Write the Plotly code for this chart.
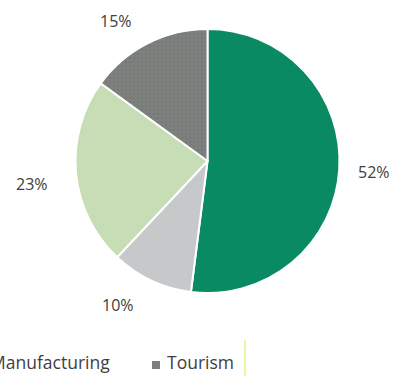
import math
import plotly.graph_objects as go

# Sector shares (percent), clockwise from 12 o'clock
sectors = ["Services", "Agriculture", "Manufacturing", "Tourism"]
shares = [52, 10, 23, 15]
colors = ["#0a8a63", "#c6c8ca", "#c7ddb6", "#7d817e"]

# Legend entries visible along the bottom strip
legend_items = ["Manufacturing", "Tourism"]

W, H = 396, 376
cx, cy, r = 207.5, 161.0, 132.0  # pie centre and radius in pixels

# Small pixel nudges for the outside labels (best-fit placement)
label_nudge = [(-1, 0), (-18, -8), (-9, 7), (-15, 9)]

dom_x = [(cx - r) / W, (cx + r) / W]
dom_y = [1 - (cy + r) / H, 1 - (cy - r) / H]

fig = go.Figure(
    go.Pie(
        labels=sectors,
        values=shares,
        sort=False,
        direction="clockwise",
        rotation=0,
        marker=dict(
            colors=colors,
            line=dict(color="white", width=2),
            pattern=dict(
                shape=["", "", "", "."],
                fillmode="overlay",
                fgcolor="#666a68",
                size=4,
                solidity=0.2,
            ),
        ),
        textinfo="none",
        hoverinfo="label+percent",
        showlegend=False,
        domain=dict(x=dom_x, y=dom_y),
    )
)

label_font = dict(family="Open Sans, Noto Sans, sans-serif", size=16, color="#404040")
legend_font = dict(family="Open Sans, Noto Sans, sans-serif", size=17.5, color="#404040")

# Percentage labels placed outside each slice around its mid-angle
total = sum(shares)
cum = 0
annotations = []
for v, (nx, ny) in zip(shares, label_nudge):
    mid = (cum + v / 2) / total * 2 * math.pi
    cum += v
    lr = r * 1.27
    px = cx + lr * math.sin(mid) + nx
    py = cy - lr * math.cos(mid) + ny
    annotations.append(
        dict(
            x=px / W, y=1 - py / H, xref="paper", yref="paper",
            text=f"{v}%", showarrow=False, font=label_font,
            xanchor="center", yanchor="middle",
        )
    )

# Bottom legend text
legend_y = 1 - 362 / H
annotations.append(
    dict(x=112 / W, y=legend_y, xref="paper", yref="paper", text=legend_items[0],
         showarrow=False, font=legend_font, xanchor="right", yanchor="middle")
)
annotations.append(
    dict(x=165 / W, y=legend_y, xref="paper", yref="paper", text=legend_items[1],
         showarrow=False, font=legend_font, xanchor="left", yanchor="middle")
)

shapes = [
    # legend swatch for the last entry
    dict(type="rect", xref="paper", yref="paper",
         x0=152 / W, x1=160 / W, y0=1 - 369 / H, y1=1 - 361 / H,
         fillcolor=colors[3], line=dict(width=0)),
    # thin yellow edge line at the legend's right
    dict(type="line", xref="paper", yref="paper",
         x0=245 / W, x1=245 / W, y0=1 - 340 / H, y1=0,
         line=dict(color="#eef5a8", width=2)),
]

fig.update_layout(
    width=W, height=H,
    margin=dict(l=0, r=0, t=0, b=0),
    paper_bgcolor="white", plot_bgcolor="white",
    annotations=annotations,
    shapes=shapes,
)

fig.write_html("out.html")
